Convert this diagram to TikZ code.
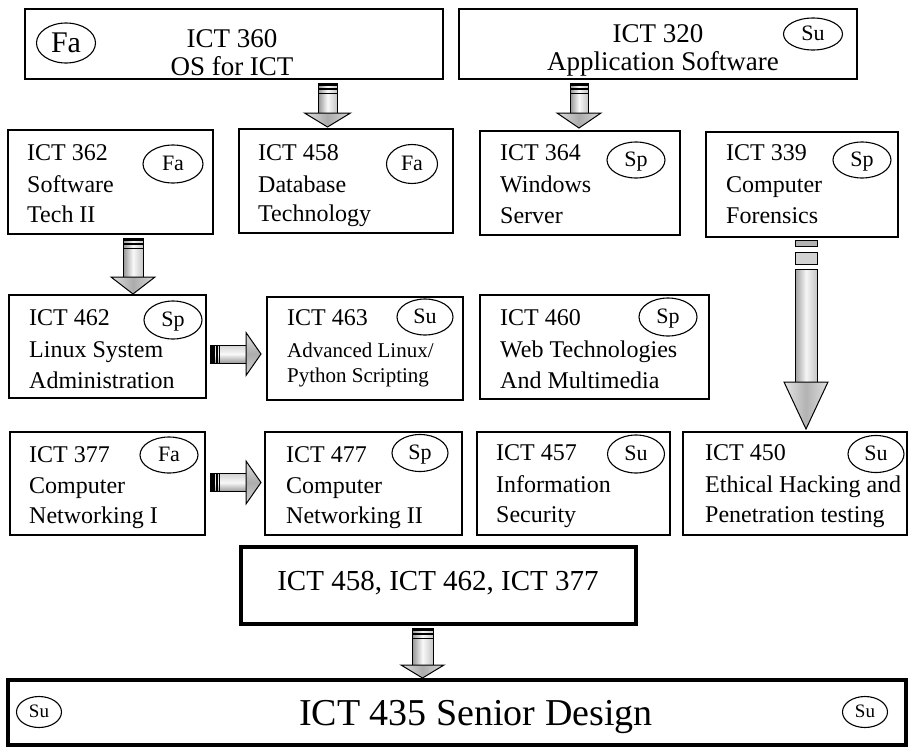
\documentclass[tikz,border=0pt]{standalone}
\usepackage{fontspec}
\setmainfont{Liberation Serif}
\usetikzlibrary{shapes.geometric}
\newcommand{\fs}[1]{\fontsize{#1}{#1}\selectfont}
\newcommand{\downarr}[6]{%
  \shade[left color=gray!85, right color=gray!45, middle color=gray!5, draw=black, line width=1pt] (#1-#5,#2) rectangle (#1+#5,#3);
  \fill[black] (#1-#5,#2) rectangle (#1+#5,#2+3);
  \fill[black] (#1-#5,#2+5) rectangle (#1+#5,#2+7);
  \fill[black] (#1-#5,#2+10) rectangle (#1+#5,#2+11);
  \shade[left color=gray!25, right color=gray!30, middle color=gray!65, draw=black, line width=1pt] (#1-#6,#3) -- (#1+#6,#3) -- (#1,#4) -- cycle;
}
\newcommand{\rightarr}[6]{%
  \shade[top color=gray!35, bottom color=gray!80, middle color=gray!5, draw=black, line width=1pt] (#2,#1-#5) rectangle (#3,#1+#5);
  \fill[black] (#2,#1-#5) rectangle (#2+5,#1+#5);
  \fill[black] (#2+6,#1-#5) rectangle (#2+8,#1+#5);
  \fill[black] (#2+9,#1-#5) rectangle (#2+10,#1+#5);
  \shade[top color=gray!25, bottom color=gray!35, middle color=gray!65, draw=black, line width=1pt] (#3,#1-#6) -- (#3,#1+#6) -- (#4,#1) -- cycle;
}
\tikzset{
  box/.style={draw=black, line width=1.4pt, anchor=north west, inner sep=0pt, outer sep=0pt},
  heavybox/.style={draw=black, line width=4.5pt, anchor=north west, inner sep=0pt, outer sep=0pt},
  sem/.style n args={3}{draw=black, ellipse, line width=1.1pt, inner sep=0pt, minimum width=#1pt, minimum height=#2pt, font=\fs{#3}, text depth=0pt},
  sem22/.style={text height=13pt},
  ln/.style={anchor=base west, inner sep=0pt, font=\fs{24}},
  lns/.style={anchor=base west, inner sep=0pt, font=\fs{21}},
  ctr/.style={anchor=base, inner sep=0pt},
}
\begin{document}
\begin{tikzpicture}[x=1pt, y=-1pt]
\useasboundingbox (0,0) rectangle (911,750);

% Top row
\node[box, minimum width=418pt, minimum height=70pt] (b360) at (25,9) {};
\node[ctr, font=\fs{27}] (t360a) at (232,47) {ICT 360};
\node[ctr, font=\fs{27}] (t360b) at (232,75) {OS for ICT};
\node[sem={59}{40}{30}, text height=18pt] (e360) at (66,43) {Fa};

\node[box, minimum width=398pt, minimum height=70pt] (b320) at (459,9) {};
\node[ctr, font=\fs{27}] (t320a) at (658,42) {ICT 320};
\node[ctr, font=\fs{27}] (t320b) at (663,70) {Application Software};
\node[sem={59}{32}{22}, sem22] (e320) at (813,34) {Su};

% Row 2
\node[box, minimum width=205pt, minimum height=104pt] (b362) at (8,130) {};
\node[ln] (t362a) at (27,160) {ICT 362};
\node[ln] (t362b) at (27,192) {Software};
\node[ln] (t362c) at (27,222) {Tech II};
\node[sem={60}{38}{22}, sem22] (e362) at (173,164) {Fa};

\node[box, minimum width=214pt, minimum height=104pt] (b458) at (239,129) {};
\node[ln] (t458a) at (258,160) {ICT 458};
\node[ln] (t458b) at (258,192) {Database};
\node[ln] (t458c) at (258,221) {Technology};
\node[sem={51}{39}{22}, sem22] (e458) at (412,164) {Fa};

\node[box, minimum width=200pt, minimum height=104pt] (b364) at (480,131) {};
\node[ln] (t364a) at (500,160) {ICT 364};
\node[ln] (t364b) at (500,192) {Windows};
\node[ln] (t364c) at (500,223) {Server};
\node[sem={58}{36}{22}, sem22] (e364) at (636,160) {Sp};

\node[box, minimum width=192pt, minimum height=105pt] (b339) at (706,132) {};
\node[ln] (t339a) at (726,160) {ICT 339};
\node[ln] (t339b) at (726,192) {Computer};
\node[ln] (t339c) at (726,223) {Forensics};
\node[sem={58}{36}{22}, sem22] (e339) at (862,160) {Sp};

% Row 3
\node[box, minimum width=197pt, minimum height=103pt] (b462) at (9,295) {};
\node[ln] (t462a) at (29,325) {ICT 462};
\node[ln] (t462b) at (29,357) {Linux System};
\node[ln] (t462c) at (29,388) {Administration};
\node[sem={58}{38}{22}, sem22] (e462) at (173,320) {Sp};

\node[box, minimum width=196pt, minimum height=103pt] (b463) at (267,297) {};
\node[ln] (t463a) at (287,325) {ICT 463};
\node[lns] (t463b) at (287,357) {Advanced Linux/};
\node[lns] (t463c) at (287,382) {Python Scripting};
\node[sem={56}{36}{22}, sem22] (e463) at (425,317) {Su};

\node[box, minimum width=229pt, minimum height=104pt] (b460) at (480,295) {};
\node[ln] (t460a) at (500,325) {ICT 460};
\node[ln] (t460b) at (500,357) {Web Technologies};
\node[ln] (t460c) at (500,388) {And Multimedia};
\node[sem={58}{38}{22}, sem22] (e460) at (668,317) {Sp};

% Row 4
\node[box, minimum width=195pt, minimum height=103pt] (b377) at (10,432) {};
\node[ln] (t377a) at (29,462) {ICT 377};
\node[ln] (t377b) at (29,493) {Computer};
\node[ln] (t377c) at (29,523) {Networking I};
\node[sem={58}{36}{22}, sem22] (e377) at (169,455) {Fa};

\node[box, minimum width=197pt, minimum height=103pt] (b477) at (265,432) {};
\node[ln] (t477a) at (286,462) {ICT 477};
\node[ln] (t477b) at (286,493) {Computer};
\node[ln] (t477c) at (286,523) {Networking II};
\node[sem={56}{37}{22}, sem22] (e477) at (420,453) {Sp};

\node[box, minimum width=193pt, minimum height=103pt] (b457) at (477,432) {};
\node[ln] (t457a) at (496,460) {ICT 457};
\node[ln] (t457b) at (496,492) {Information};
\node[ln] (t457c) at (496,522) {Security};
\node[sem={57}{38}{22}, sem22] (e457) at (636,454) {Su};

\node[box, minimum width=224pt, minimum height=103pt] (b450) at (683,432) {};
\node[ln] (t450a) at (705,460) {ICT 450};
\node[ln] (t450b) at (705,492) {Ethical Hacking and};
\node[ln] (t450c) at (705,522) {Penetration testing};
\node[sem={56}{37}{22}, sem22] (e450) at (876,454) {Su};

% Bottom
\node[heavybox, minimum width=395pt, minimum height=77pt] (bpre) at (241,547) {};
\node[ctr, font=\fs{29}] (tpre) at (438,590) {ICT 458, ICT 462, ICT 377};

\node[heavybox, minimum width=898pt, minimum height=65pt] (bsen) at (8,680) {};
\node[ctr, font=\fs{38}] (tsen) at (476,725) {ICT 435 Senior Design};
\node[sem={45}{31}{19}, text height=11pt] (esen1) at (39,712) {Su};
\node[sem={45}{31}{19}, text height=11pt] (esen2) at (865,712) {Su};

% Block arrows
\downarr{327.5}{83}{113}{127}{9.5}{23}
\downarr{579}{83}{113}{128}{9}{22}
\downarr{133}{238}{277}{294}{10}{22}
\downarr{422.5}{628}{665}{678}{10.5}{21.5}
\rightarr{354}{210}{246}{261}{9}{21.5}
\rightarr{482.5}{210}{246}{261}{9}{21.5}

% ICT 339 -> ICT 450 long arrow
\filldraw[fill=gray!60, draw=black, line width=0.8pt] (795,240) rectangle (817,246);
\filldraw[fill=gray!35, draw=black, line width=0.8pt] (795,252) rectangle (817,264);
\shade[left color=gray!75, right color=gray!45, middle color=gray!8, draw=black, line width=1pt] (795,269) rectangle (817,382);
\shade[left color=gray!20, right color=gray!25, middle color=gray!60, draw=black, line width=1pt] (784,382) -- (828,382) -- (806,429) -- cycle;
\end{tikzpicture}
\end{document}
